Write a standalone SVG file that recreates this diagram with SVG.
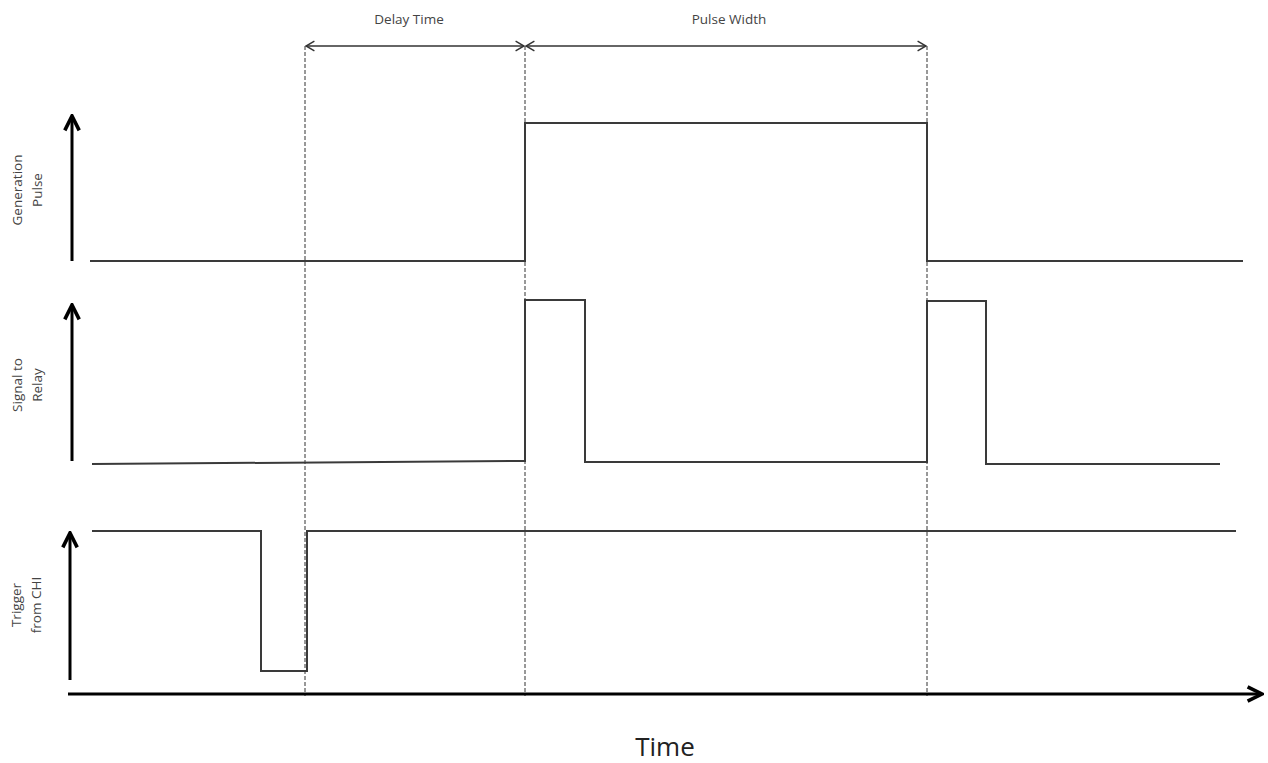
<svg xmlns="http://www.w3.org/2000/svg" width="1268" height="763" viewBox="0 0 1268 763">
<style>
.sig{fill:none;stroke:#3a3a3a;stroke-width:2;stroke-linejoin:miter}
.axis{fill:none;stroke:#000;stroke-width:3}
.dash{stroke:#333;stroke-width:1;stroke-dasharray:4,2}
.dim{stroke:#333;stroke-width:1.5}
.lbl{font-family:"Open Sans","Liberation Sans",sans-serif;font-size:13.5px;fill:#444;text-anchor:middle}
</style>
<defs>
<marker id="ah" viewBox="0 0 10 10" refX="9" refY="5" markerWidth="6" markerHeight="6" orient="auto" markerUnits="strokeWidth">
<polyline points="1,1 9,5 1,9" fill="none" stroke="#000" stroke-width="2"/>
</marker>
<marker id="dh" viewBox="0 0 10 10" refX="9" refY="5" markerWidth="8" markerHeight="10" orient="auto-start-reverse" markerUnits="strokeWidth">
<polyline points="2,1 9,5 2,9" fill="none" stroke="#333" stroke-width="1.2"/>
</marker>
</defs>
<g id="guides">
<line class="dash" x1="305" y1="46" x2="305" y2="696"/>
<line class="dash" x1="525" y1="46" x2="525" y2="696"/>
<line class="dash" x1="927" y1="46" x2="927" y2="696"/>
</g>
<g id="connectors">
<line class="dim" x1="306" y1="46" x2="524" y2="46" marker-start="url(#dh)" marker-end="url(#dh)"/>
<line class="dim" x1="526" y1="46" x2="926" y2="46" marker-start="url(#dh)" marker-end="url(#dh)"/>
<line class="axis" x1="72" y1="261" x2="72" y2="116" marker-end="url(#ah)"/>
<line class="axis" x1="72" y1="461" x2="72" y2="305" marker-end="url(#ah)"/>
<line class="axis" x1="70" y1="680" x2="70" y2="533" marker-end="url(#ah)"/>
<line class="axis" x1="68" y1="694" x2="1262" y2="694" marker-end="url(#ah)"/>
</g>
<g id="generation-pulse">
<polyline class="sig" points="90,261 525,261 525,123 927,123 927,261 1243,261"/>
<text class="lbl" transform="translate(22,190) rotate(-90)">Generation</text>
<text class="lbl" transform="translate(42,190) rotate(-90)">Pulse</text>
</g>
<g id="signal-to-relay">
<polyline class="sig" points="92,464 525,461 525,300 585,300 585,462 927,462 927,301 986,301 986,464 1220,464"/>
<text class="lbl" transform="translate(22,385) rotate(-90)">Signal to</text>
<text class="lbl" transform="translate(42,385) rotate(-90)">Relay</text>
</g>
<g id="trigger">
<polyline class="sig" points="92,531 261,531 261,671 307,671 307,531 1236,531"/>
<text class="lbl" transform="translate(21,605) rotate(-90)">Trigger</text>
<text class="lbl" transform="translate(41,605) rotate(-90)">from CHI</text>
</g>
<g id="labels">
<text class="lbl" x="409" y="24">Delay Time</text>
<text class="lbl" x="729" y="24">Pulse Width</text>
<text x="665" y="756" style="font-family:'Open Sans','Liberation Sans',sans-serif;font-size:26px;fill:#222;text-anchor:middle">Time</text>
</g>
</svg>
